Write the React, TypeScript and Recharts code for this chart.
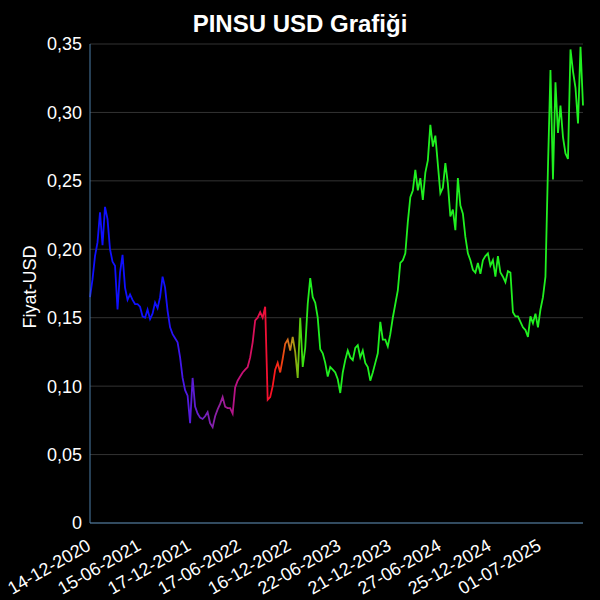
import React from "react";
import { CartesianGrid, Line, LineChart, XAxis, YAxis } from "recharts";

// price samples, one block per labelled half-year
const vDec20 = [0.165, 0.178, 0.195, 0.205, 0.227, 0.203, 0.231, 0.222, 0.2, 0.191, 0.188, 0.156, 0.183, 0.196, 0.172, 0.163, 0.167, 0.163, 0.16, 0.16];
const vJun21 = [0.158, 0.151, 0.15, 0.156, 0.149, 0.153, 0.161, 0.157, 0.165, 0.18, 0.172, 0.155, 0.143, 0.138, 0.135, 0.132, 0.121, 0.106, 0.097, 0.093];
const vDec21 = [0.073, 0.106, 0.085, 0.08, 0.077, 0.076, 0.078, 0.081, 0.073, 0.07, 0.078, 0.083, 0.087, 0.092, 0.085, 0.084, 0.084, 0.08, 0.099, 0.104];
const vJun22 = [0.107, 0.11, 0.112, 0.114, 0.121, 0.132, 0.148, 0.15, 0.154, 0.15, 0.158, 0.09, 0.092, 0.1, 0.112, 0.117, 0.11, 0.12, 0.131, 0.134];
const vDec22 = [0.126, 0.136, 0.125, 0.106, 0.15, 0.114, 0.128, 0.16, 0.179, 0.165, 0.161, 0.15, 0.127, 0.124, 0.117, 0.107, 0.114, 0.112, 0.11, 0.105];
const vJun23 = [0.095, 0.11, 0.119, 0.126, 0.121, 0.119, 0.128, 0.13, 0.121, 0.126, 0.117, 0.114, 0.104, 0.11, 0.117, 0.124, 0.147, 0.134, 0.134, 0.129];
const vDec23 = [0.138, 0.15, 0.16, 0.17, 0.19, 0.192, 0.197, 0.22, 0.238, 0.243, 0.258, 0.243, 0.252, 0.236, 0.256, 0.265, 0.291, 0.275, 0.283, 0.262];
const vJun24 = [0.241, 0.245, 0.263, 0.248, 0.224, 0.229, 0.214, 0.252, 0.232, 0.226, 0.209, 0.197, 0.192, 0.185, 0.183, 0.19, 0.182, 0.192, 0.195, 0.197];
const vDec24 = [0.188, 0.192, 0.18, 0.195, 0.183, 0.18, 0.176, 0.184, 0.183, 0.154, 0.151, 0.151, 0.147, 0.143, 0.141, 0.136, 0.151, 0.146, 0.153, 0.143];
const vJul25 = [0.156, 0.165, 0.18, 0.26, 0.331, 0.251, 0.322, 0.285, 0.305, 0.282, 0.27, 0.266, 0.346, 0.33, 0.318, 0.292, 0.348, 0.305];

const prices = [...vDec20, ...vJun21, ...vDec21, ...vJun22, ...vDec22, ...vJun23, ...vDec23, ...vJun24, ...vDec24, ...vJul25];

const tickIdx = [0, 20, 40, 60, 80, 100, 120, 140, 160, 180];
const tickLabels = ["14-12-2020", "15-06-2021", "17-12-2021", "17-06-2022", "16-12-2022", "22-06-2023", "21-12-2023", "27-06-2024", "25-12-2024", "01-07-2025"];
const yTicks = [0, 0.05, 0.1, 0.15, 0.2, 0.25, 0.3, 0.35];

const data = prices.map((price, i) => ({ i, price }));

const FONT = "'Liberation Sans', Arial, sans-serif";
const AXIS = "#4c7fa8";

const fmtY = (v: number) => (v === 0 ? "0" : v.toFixed(2).replace(".", ","));

function DateTick(props: any) {
  const { x, y, payload } = props;
  const label = tickLabels[tickIdx.indexOf(payload.value)] ?? "";
  return (
    <g transform={`translate(${x + 2},${y + 18}) rotate(-30)`}>
      <text textAnchor="end" fill="#fff" fontSize={18} fontFamily={FONT}>
        {label}
      </text>
    </g>
  );
}

export default function App() {
  return (
    <div style={{ position: "fixed", left: 0, top: 0, width: 600, height: 600, background: "#000" }}>
      <LineChart width={600} height={600} data={data} margin={{ top: 44, right: 17, bottom: 0, left: 0 }}>
        <defs>
          <linearGradient id="priceGrad" x1="0" y1="0" x2="1" y2="0">
            <stop offset="0%" stopColor="#1010ff" />
            <stop offset="15%" stopColor="#1010ff" />
            <stop offset="19%" stopColor="#4a18e8" />
            <stop offset="23%" stopColor="#7020c0" />
            <stop offset="26%" stopColor="#9020a0" />
            <stop offset="30%" stopColor="#c01080" />
            <stop offset="34%" stopColor="#e01050" />
            <stop offset="37%" stopColor="#ff1020" />
            <stop offset="39%" stopColor="#f04010" />
            <stop offset="40.5%" stopColor="#d08020" />
            <stop offset="41.5%" stopColor="#a0a010" />
            <stop offset="43%" stopColor="#40e010" />
            <stop offset="44.5%" stopColor="#20f020" />
            <stop offset="100%" stopColor="#20f020" />
          </linearGradient>
        </defs>
        <CartesianGrid stroke="#333" vertical={false} />
        <XAxis
          type="number"
          dataKey="i"
          domain={[0, 197]}
          ticks={tickIdx}
          interval={0}
          height={77}
          stroke={AXIS}
          tickLine={false}
          tick={<DateTick />}
        />
        <YAxis
          domain={[0, 0.35]}
          ticks={yTicks}
          width={90}
          stroke={AXIS}
          tickLine={false}
          tickFormatter={fmtY}
          tick={{ fill: "#fff", fontSize: 18, fontFamily: FONT }}
        />
        <Line
          type="linear"
          dataKey="price"
          stroke="url(#priceGrad)"
          strokeWidth={1.8}
          dot={false}
          isAnimationActive={false}
        />
      </LineChart>
      <svg width={600} height={600} style={{ position: "absolute", left: 0, top: 0, pointerEvents: "none" }}>
        <text x={300} y={32} textAnchor="middle" fill="#fff" fontSize={24} fontWeight="bold" fontFamily={FONT}>
          PINSU USD Grafiği
        </text>
        <text
          transform="translate(36,287) rotate(-90)"
          textAnchor="middle"
          fill="#fff"
          fontSize={18}
          fontFamily={FONT}
        >
          Fiyat-USD
        </text>
      </svg>
    </div>
  );
}
